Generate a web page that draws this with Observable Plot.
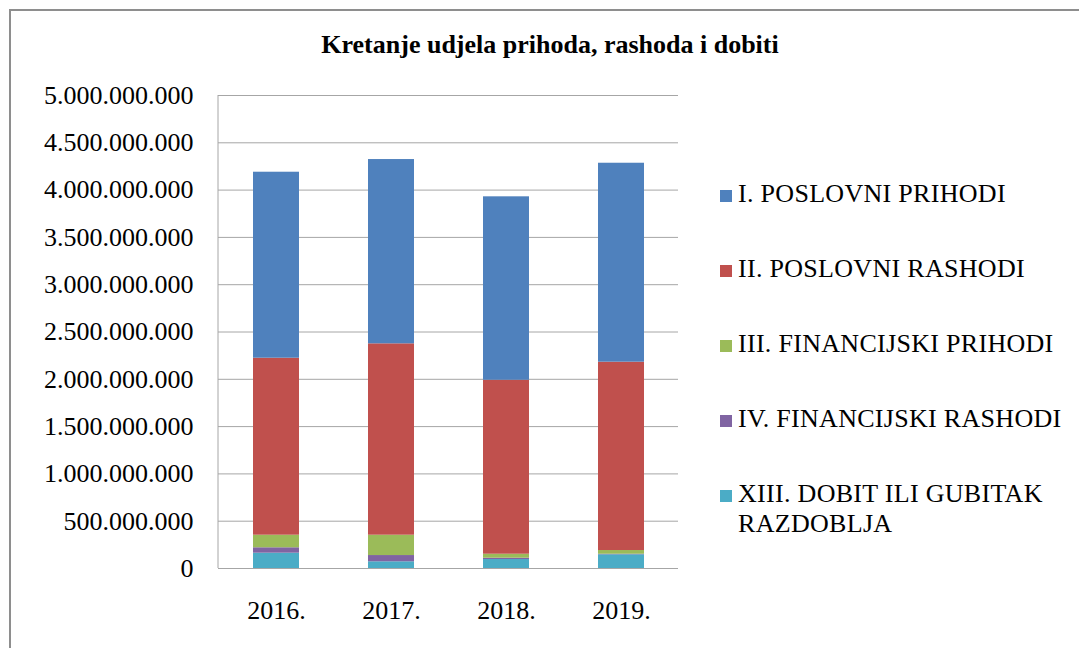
<!DOCTYPE html>
<html>
<head>
<meta charset="utf-8">
<script src="https://cdn.jsdelivr.net/npm/d3@7"></script>
<script src="https://cdn.jsdelivr.net/npm/@observablehq/plot@0.6"></script>
<style>
  html, body { margin: 0; padding: 0; background: #fff; overflow: hidden; }
  #wrap { position: relative; width: 1079px; height: 648px; overflow: hidden; font-family: "Liberation Serif", "Times New Roman", "DejaVu Serif", serif; color: #000; }
  #frame { position: absolute; left: 9px; top: 9px; width: 1100px; height: 700px; border: 2px solid #8e8e8e; box-sizing: border-box; }
  #chart { position: absolute; left: 0; top: 0; }
  #chart svg text { font-family: "Liberation Serif", "Times New Roman", "DejaVu Serif", serif; }
  #title { position: absolute; left: 0; width: 1100px; top: 30px; text-align: center; font-weight: bold; font-size: 26px; line-height: 30px; }
  .lg { position: absolute; left: 720px; font-size: 26px; line-height: 30px; letter-spacing: 0.3px; }
  .lg .sw { position: absolute; left: 0; top: 11px; width: 12px; height: 12px; }
  .lg .tx { position: absolute; left: 18px; top: 0; white-space: nowrap; }
</style>
</head>
<body>
<div id="wrap">
  <div id="frame"></div>
  <div id="chart"></div>
  <div id="title">Kretanje udjela prihoda, rashoda i dobiti</div>
  <div id="legend"></div>
</div>
<script>
// Data
const years = ["2016.", "2017.", "2018.", "2019."];
const seriesNames = [
  "XIII. DOBIT ILI GUBITAK RAZDOBLJA",
  "IV. FINANCIJSKI RASHODI",
  "III. FINANCIJSKI PRIHODI",
  "II. POSLOVNI RASHODI",
  "I. POSLOVNI PRIHODI"
];
const dobit            = [162000000,  71000000,  95000000, 145000000];
const finRashodi       = [ 57000000,  66000000,  14000000,   6000000];
const finPrihodi       = [133000000, 215000000,  42000000,  39000000];
const poslovniRashodi  = [1871000000, 2023000000, 1839000000, 1991000000];
const poslovniPrihodi  = [1966000000, 1948000000, 1939000000, 2103000000];
const seriesColors = ["#4bacc6", "#8064a2", "#9bbb59", "#c0504d", "#4f81bd"];
const yTicks = [0, 500000000, 1000000000, 1500000000, 2000000000, 2500000000, 3000000000, 3500000000, 4000000000, 4500000000, 5000000000];
const legendOrder = [4, 3, 2, 1, 0];

const seriesValues = [dobit, finRashodi, finPrihodi, poslovniRashodi, poslovniPrihodi];
const rows = [];
years.forEach((yr, i) => {
  seriesNames.forEach((s, j) => rows.push({year: yr, series: s, value: seriesValues[j][i]}));
});

const fmt = d3.formatLocale({decimal: ",", thousands: ".", grouping: [3], currency: ["", ""]}).format(",d");

const leftLine = (index, scales, values, dims) =>
  d3.create("svg:line")
    .attr("x1", dims.marginLeft).attr("x2", dims.marginLeft)
    .attr("y1", dims.marginTop).attr("y2", dims.height - dims.marginBottom)
    .attr("stroke", "#a6a6a6").attr("stroke-width", 1)
    .node();

const plot = Plot.plot({
  width: 1079,
  height: 648,
  marginLeft: 218,
  marginRight: 401,
  marginTop: 95,
  marginBottom: 80,
  style: {fontFamily: "'Liberation Serif', 'Times New Roman', serif", fontSize: "26px", color: "#000", background: "transparent", overflow: "visible"},
  x: {domain: years, paddingInner: 0.6, paddingOuter: 0.3, label: null, tickSize: 0, tickPadding: 32},
  y: {domain: [0, 5000000000], ticks: yTicks, tickFormat: fmt, label: null, tickSize: 0, tickPadding: 25},
  color: {domain: seriesNames, range: seriesColors},
  marks: [
    Plot.ruleY(yTicks, {stroke: "#a6a6a6", strokeWidth: 1}),
    leftLine,
    Plot.barY(rows, {x: "year", y: "value", fill: "series", order: seriesNames}),
  ]
});
document.getElementById("chart").appendChild(plot);

// Legend
const legend = document.getElementById("legend");
const tops = [179, 254, 329, 404, 479];
legendOrder.forEach((j, k) => {
  const item = document.createElement("div");
  item.className = "lg";
  item.style.top = tops[k] + "px";
  const sw = document.createElement("div");
  sw.className = "sw";
  sw.style.background = seriesColors[j];
  const tx = document.createElement("div");
  tx.className = "tx";
  const name = seriesNames[j];
  if (name.startsWith("XIII")) {
    tx.innerHTML = "XIII. DOBIT ILI GUBITAK<br>RAZDOBLJA";
  } else {
    tx.textContent = name;
  }
  item.appendChild(sw);
  item.appendChild(tx);
  legend.appendChild(item);
});
</script>
</body>
</html>
